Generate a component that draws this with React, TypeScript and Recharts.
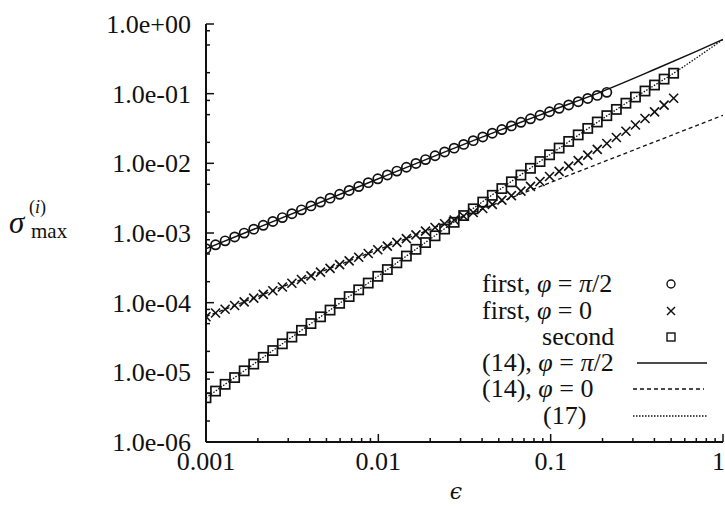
import React from 'react';
import { ComposedChart, XAxis, YAxis, Line, Scatter, Legend } from 'recharts';

// epsilon values (shared abscissae of the computed points)
const epsilon = [
  0.001, 0.001136, 0.001291, 0.001466, 0.001665, 0.001892, 0.002149, 0.002442, 0.002774, 0.003151,
  0.003579, 0.004066, 0.004619, 0.005247, 0.005961, 0.006772, 0.007692, 0.008739, 0.009927, 0.01128,
  0.01281, 0.01455, 0.01653, 0.01878, 0.02134, 0.02424, 0.02753, 0.03128, 0.03553, 0.04036,
  0.04585, 0.05209, 0.05917, 0.06722, 0.07636, 0.08675, 0.09855, 0.112, 0.1272, 0.1445,
  0.1641, 0.1864, 0.2118, 0.2406, 0.2733, 0.3105, 0.3527, 0.4007, 0.4552, 0.5171,
];

// "first, phi = pi/2" (circles)
const sigmaFirstPi2 = [
  5.95e-4, 6.77e-4, 7.71e-4, 8.77e-4, 9.97e-4, 1.135e-3, 1.289e-3, 1.465e-3, 1.664e-3, 1.894e-3,
  2.151e-3, 2.448e-3, 2.781e-3, 3.164e-3, 3.595e-3, 4.084e-3, 4.646e-3, 5.278e-3, 5.996e-3, 6.813e-3,
  7.737e-3, 8.788e-3, 9.968e-3, 1.132e-2, 1.285e-2, 1.457e-2, 1.652e-2, 1.871e-2, 2.118e-2, 2.393e-2,
  2.705e-2, 3.053e-2, 3.444e-2, 3.879e-2, 4.36e-2, 4.901e-2, 5.499e-2, 6.16e-2, 6.882e-2, 7.673e-2,
  8.533e-2, 9.45e-2, 0.1044,
];

// "first, phi = 0" (crosses)
const sigmaFirstZero = [
  6.28e-5, 7.1e-5, 8.04e-5, 9.09e-5, 1.027e-4, 1.162e-4, 1.314e-4, 1.485e-4, 1.68e-4, 1.9e-4,
  2.148e-4, 2.429e-4, 2.747e-4, 3.106e-4, 3.512e-4, 3.972e-4, 4.491e-4, 5.079e-4, 5.742e-4, 6.494e-4,
  7.343e-4, 8.304e-4, 9.391e-4, 1.062e-3, 1.201e-3, 1.358e-3, 1.535e-3, 1.737e-3, 1.971e-3, 2.249e-3,
  2.578e-3, 2.97e-3, 3.438e-3, 3.996e-3, 4.67e-3, 5.483e-3, 6.467e-3, 7.666e-3, 9.135e-3, 1.093e-2,
  1.314e-2, 1.589e-2, 1.929e-2, 2.353e-2, 2.886e-2, 3.556e-2, 4.401e-2, 5.472e-2, 6.841e-2, 8.59e-2,
];

// "second" (squares)
const sigmaSecond = [
  4.31e-6, 5.38e-6, 6.73e-6, 8.41e-6, 1.051e-5, 1.314e-5, 1.642e-5, 2.053e-5, 2.566e-5, 3.207e-5,
  4.009e-5, 5.011e-5, 6.263e-5, 7.829e-5, 9.786e-5, 1.223e-4, 1.529e-4, 1.911e-4, 2.389e-4, 2.986e-4,
  3.733e-4, 4.666e-4, 5.832e-4, 7.29e-4, 9.112e-4, 1.139e-3, 1.424e-3, 1.78e-3, 2.224e-3, 2.78e-3,
  3.475e-3, 4.344e-3, 5.43e-3, 6.787e-3, 8.484e-3, 1.06e-2, 1.326e-2, 1.657e-2, 2.062e-2, 2.56e-2,
  3.172e-2, 3.92e-2, 4.833e-2, 5.944e-2, 7.3e-2, 8.94e-2, 0.1092, 0.1331, 0.1619, 0.1965,
];

// (14), phi = pi/2  (solid)
const eq14Pi2Eps = [0.001, 0.01, 0.05, 0.1, 0.2, 0.4, 0.7, 1];
const eq14Pi2Sigma = [5.95e-4, 6.0e-3, 0.0295, 0.0565, 0.108, 0.222, 0.405, 0.6];
// (14), phi = 0  (dashed)
const eq14ZeroEps = [0.001, 1];
const eq14ZeroSigma = [6.3e-5, 0.049];
// (17)  (dotted)
const eq17Eps = [0.001, 0.01, 0.1, 0.3, 0.517, 1];
const eq17Sigma = [4.31e-6, 2.42e-4, 0.01355, 0.0845, 0.1965, 0.6];

// ticks
const xTicks = [
  0.001, 0.002, 0.003, 0.004, 0.005, 0.006, 0.007, 0.008, 0.009,
  0.01, 0.02, 0.03, 0.04, 0.05, 0.06, 0.07, 0.08, 0.09,
  0.1, 0.2, 0.3, 0.4, 0.5, 0.6, 0.7, 0.8, 0.9, 1,
];
const xTickLabels = ['0.001', '0.01', '0.1', '1'];
const yTicks = [
  1e-6, 2e-6, 5e-6, 8e-6, 1e-5, 2e-5, 5e-5, 8e-5, 1e-4, 2e-4, 5e-4, 8e-4,
  1e-3, 2e-3, 5e-3, 8e-3, 1e-2, 2e-2, 5e-2, 8e-2, 1e-1, 2e-1, 5e-1, 8e-1, 1,
];
const yTickLabels = ['1.0e-06', '1.0e-05', '1.0e-04', '1.0e-03', '1.0e-02', '1.0e-01', '1.0e+00'];

const legendLabels = ['first, φ = π/2', 'first, φ = 0', 'second', '(14), φ = π/2', '(14), φ = 0', '(17)'];

const pairs = (xs: number[], ys: number[]) => ys.map((y, i) => ({ x: xs[i], y }));
const circlesData = pairs(epsilon, sigmaFirstPi2);
const crossesData = pairs(epsilon, sigmaFirstZero);
const squaresData = pairs(epsilon, sigmaSecond);
const solidData = pairs(eq14Pi2Eps, eq14Pi2Sigma);
const dashedData = pairs(eq14ZeroEps, eq14ZeroSigma);
const dottedData = pairs(eq17Eps, eq17Sigma);

const FONT = '"Liberation Serif", "Times New Roman", serif';
const INK = '#111';

const isDecade = (v: number) => Math.abs(Math.log10(v) - Math.round(Math.log10(v))) < 1e-6;

const makeXTick = (top: boolean) => (props: any) => {
  const { x, y, payload } = props;
  const v = payload.value;
  const major = isDecade(v);
  const len = major ? 8 : 4;
  const dir = top ? 1 : -1;
  const idx = Math.round(Math.log10(v)) + 3;
  const last = idx === xTickLabels.length - 1;
  return (
    <g>
      <line x1={x} x2={x} y1={y} y2={y + dir * len} stroke={INK} strokeWidth={1.5} />
      {major && !top ? (
        <text
          x={last ? x + 2 : x}
          y={y + 28}
          textAnchor={last ? 'end' : 'middle'}
          fontFamily={FONT}
          fontSize={26}
          fill={INK}
        >
          {xTickLabels[idx]}
        </text>
      ) : null}
    </g>
  );
};

const makeYTick = (right: boolean) => (props: any) => {
  const { x, y, payload } = props;
  const v = payload.value;
  const major = isDecade(v);
  const len = major ? 8 : 4;
  const dir = right ? -1 : 1;
  const idx = Math.round(Math.log10(v)) + 6;
  return (
    <g>
      <line x1={x} x2={x + dir * len} y1={y} y2={y} stroke={INK} strokeWidth={1.5} />
      {major && !right ? (
        <text x={x - 15} y={y + 9} textAnchor="end" fontFamily={FONT} fontSize={26} fill={INK}>
          {yTickLabels[idx]}
        </text>
      ) : null}
    </g>
  );
};

const XTickBottom = makeXTick(false);
const XTickTop = makeXTick(true);
const YTickLeft = makeYTick(false);
const YTickRight = makeYTick(true);

const CircleMark = (p: any) => <circle cx={p.cx} cy={p.cy} r={4.6} fill="none" stroke={INK} strokeWidth={1.7} />;
const SquareMark = (p: any) => (
  <rect x={p.cx - 4.6} y={p.cy - 4.6} width={9.2} height={9.2} fill="none" stroke={INK} strokeWidth={1.7} />
);
const CrossMark = (p: any) => (
  <g stroke={INK} strokeWidth={1.6}>
    <line x1={p.cx - 4.5} y1={p.cy - 4.5} x2={p.cx + 4.5} y2={p.cy + 4.5} />
    <line x1={p.cx - 4.5} y1={p.cy + 4.5} x2={p.cx + 4.5} y2={p.cy - 4.5} />
  </g>
);

// Greek letters set in italic, one tspan per character
const mathText = (s: string) =>
  Array.from(s).map((ch, i) =>
    ch === 'φ' || ch === 'π' ? (
      <tspan key={i} fontStyle="italic">{ch}</tspan>
    ) : (
      <tspan key={i}>{ch}</tspan>
    )
  );

const LegendBox = () => {
  const rowY = [284, 311, 337, 363, 389, 416];
  const textX = [482, 482, 542, 482, 482, 543];
  const mx = 671;
  return (
    <svg width={725} height={506} style={{ position: 'absolute', left: 0, top: 0 }}>
      {legendLabels.map((lab, i) => (
        <text key={i} x={textX[i]} y={rowY[i] + 8} fontFamily={FONT} fontSize={26} fill={INK} xmlSpace="preserve">
          {mathText(lab)}
        </text>
      ))}
      <circle cx={mx} cy={rowY[0]} r={4} fill="none" stroke={INK} strokeWidth={1.4} />
      <g stroke={INK} strokeWidth={1.4}>
        <line x1={mx - 4} y1={rowY[1] - 4} x2={mx + 4} y2={rowY[1] + 4} />
        <line x1={mx - 4} y1={rowY[1] + 4} x2={mx + 4} y2={rowY[1] - 4} />
      </g>
      <rect x={mx - 4} y={rowY[2] - 4} width={8} height={8} fill="none" stroke={INK} strokeWidth={1.4} />
      <line x1={637} x2={707} y1={rowY[3]} y2={rowY[3]} stroke={INK} strokeWidth={1.5} />
      <line x1={633} x2={704} y1={rowY[4]} y2={rowY[4]} stroke={INK} strokeWidth={1.3} strokeDasharray="4 3" />
      <line x1={633} x2={707} y1={rowY[5]} y2={rowY[5]} stroke={INK} strokeWidth={1.3} strokeDasharray="1.5 1.5" />
    </svg>
  );
};

const YTitle = () => (
  <g fill={INK}>
    <text x={9} y={233} fontFamily={FONT} fontSize={31} fontStyle="italic">σ</text>
    <text x={29} y={213} fontFamily={FONT} fontSize={18}>
      (<tspan fontStyle="italic">i</tspan>)
    </text>
    <text x={31} y={238} fontFamily={FONT} fontSize={21}>max</text>
  </g>
);

const XTitle = () => (
  <text x={456} y={499} textAnchor="middle" fontFamily={'"DejaVu Serif", serif'} fontSize={22} fontStyle="italic" fill={INK}>
    ϵ
  </text>
);

export default function App() {
  return (
    <div style={{ position: 'absolute', left: 0, top: 0, width: 725, height: 506, background: '#fff' }}>
      <ComposedChart width={725} height={506} margin={{ top: 24, right: 2, bottom: 0, left: 0 }}>
        <XAxis
          dataKey="x"
          type="number"
          scale="log"
          domain={[0.001, 1]}
          allowDataOverflow
          ticks={xTicks}
          interval={0}
          tick={<XTickBottom />}
          tickLine={false}
          tickSize={0}
          tickMargin={0}
          axisLine={{ stroke: INK, strokeWidth: 2 }}
          height={64}
          label={<XTitle />}
        />
        <XAxis
          xAxisId="top"
          orientation="top"
          dataKey="x"
          type="number"
          scale="log"
          domain={[0.001, 1]}
          allowDataOverflow
          ticks={xTicks}
          interval={0}
          tick={<XTickTop />}
          tickLine={false}
          tickSize={0}
          tickMargin={0}
          axisLine={{ stroke: INK, strokeWidth: 2 }}
          height={0}
        />
        <YAxis
          dataKey="y"
          type="number"
          scale="log"
          domain={[1e-6, 1]}
          allowDataOverflow
          ticks={yTicks}
          interval={0}
          tick={<YTickLeft />}
          tickLine={false}
          tickSize={0}
          tickMargin={0}
          axisLine={{ stroke: INK, strokeWidth: 2 }}
          width={206}
          label={<YTitle />}
        />
        <YAxis
          yAxisId="right"
          orientation="right"
          dataKey="y"
          type="number"
          scale="log"
          domain={[1e-6, 1]}
          allowDataOverflow
          ticks={yTicks}
          interval={0}
          tick={<YTickRight />}
          tickLine={false}
          tickSize={0}
          tickMargin={0}
          axisLine={{ stroke: INK, strokeWidth: 2 }}
          width={0}
        />
        <Line data={solidData} dataKey="y" type="monotone" stroke={INK} strokeWidth={1.5} dot={false} isAnimationActive={false} />
        <Line data={dashedData} dataKey="y" type="linear" stroke={INK} strokeWidth={1.3} strokeDasharray="4 3" dot={false} isAnimationActive={false} />
        <Line data={dottedData} dataKey="y" type="monotone" stroke={INK} strokeWidth={1.3} strokeDasharray="1.5 1.5" dot={false} isAnimationActive={false} />
        <Scatter data={circlesData} dataKey="y" shape={CircleMark} isAnimationActive={false} />
        <Scatter data={crossesData} dataKey="y" shape={CrossMark} isAnimationActive={false} />
        <Scatter data={squaresData} dataKey="y" shape={SquareMark} isAnimationActive={false} />
        <Legend
          layout="horizontal"
          verticalAlign="middle"
          align="center"
          content={<LegendBox />}
          wrapperStyle={{ position: 'absolute', left: 0, top: 0, width: 725, height: 506, pointerEvents: 'none' }}
        />
      </ComposedChart>
    </div>
  );
}
